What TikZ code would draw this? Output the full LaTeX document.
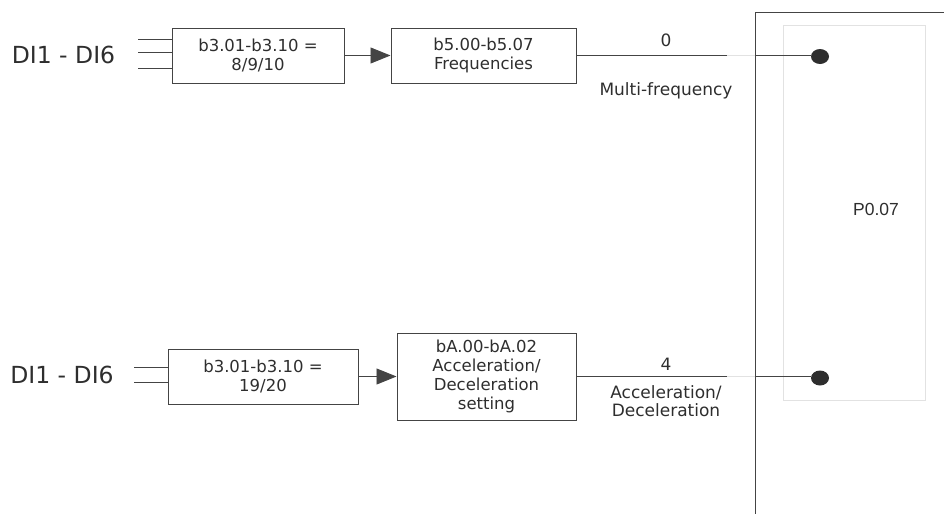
\documentclass[tikz,border=0pt]{standalone}
\usepackage{fontspec}
\setmainfont{DejaVu Sans}
\newfontfamily\labelfont{Liberation Sans}
\usetikzlibrary{arrows.meta,calc,shapes.geometric}
\definecolor{ink}{HTML}{2E2E2E}
\definecolor{edge}{HTML}{444444}
\definecolor{faint}{HTML}{E2E2E2}
\tikzset{
  blk/.style={draw=edge, line width=1pt, align=center, inner sep=0pt,
              font=\fontsize{16.5}{19}\selectfont, text=ink},
  lbl/.style={align=center, inner sep=0pt, font=\fontsize{17}{18.5}\selectfont, text=ink},
  dilbl/.style={inner sep=0pt, font=\fontsize{23.5}{26}\selectfont, text=ink},
  wire/.style={draw=edge, line width=0.9pt},
  fwire/.style={draw=faint, line width=0.9pt},
  flow/.style={wire, -{Triangle[length=20pt,width=16pt]}},
  pin/.style={ellipse, fill=ink, draw=none, inner sep=0pt,
              minimum width=18pt, minimum height=15pt}
}
\begin{document}
\begin{tikzpicture}[x=1pt,y=-1pt]
\useasboundingbox (0,0) rectangle (944,514);

% selector frame and its inner panel
\draw[faint, line width=0.8pt] (783,25) rectangle (925,400);
\draw[edge, line width=1pt] (944,12) -- (755,12) -- (755,514);
\node[inner sep=0pt, font=\labelfont\fontsize{17.5}{20}\selectfont, text=ink] (p007) at (876,209) {P0.07};

% multi-frequency path
\node[dilbl] (di1) at (63.5,55) {DI1 - DI6};
\node[blk, minimum width=172pt, minimum height=55pt] (b1) at (258,55.5) {b3.01-b3.10 =\\8/9/10};
\node[blk, minimum width=185pt, minimum height=55pt] (b2) at (483.5,55.5) {b5.00-b5.07\\Frequencies};
\coordinate (ia) at (138,39);
\coordinate (ib) at (138,52);
\coordinate (ic) at (138,68);
\draw[wire] (ia) -- (ia -| b1.west);
\draw[wire] (ib) -- (ib -| b1.west);
\draw[wire] (ic) -- (ic -| b1.west);
\draw[flow] (b1.east) -- (b2.west);
\coordinate (fa) at (727,55.5);
\coordinate (fb) at (755,55.5);
\node[pin] (d1) at (820,56.5) {};
\draw[wire] (b2.east) -- (fa);
\draw[fwire] (fa) -- (fb);
\draw[wire] (fb) -- (d1.west |- fb);
\node[lbl] (l0) at (666,40) {0};
\node[lbl] (lmf) at (666,91) {Multi-frequency};

% acceleration / deceleration path
\node[dilbl] (di2) at (62,375) {DI1 - DI6};
\node[blk, minimum width=190pt, minimum height=55pt] (b3) at (263,376.5) {b3.01-b3.10 =\\19/20};
\node[blk, minimum width=179pt, minimum height=87pt] (b4) at (486.5,376.5) {bA.00-bA.02\\Acceleration/\\Deceleration\\setting};
\coordinate (ja) at (134,367);
\coordinate (jb) at (134,382);
\draw[wire] (ja) -- (ja -| b3.west);
\draw[wire] (jb) -- (jb -| b3.west);
\draw[flow] (b3.east) -- (b4.west);
\coordinate (ga) at (727,376.5);
\coordinate (gb) at (755,376.5);
\node[pin] (d2) at (820,378) {};
\draw[wire] (b4.east) -- (ga);
\draw[fwire] (ga) -- (gb);
\draw[wire] (gb) -- (d2.west |- gb);
\node[lbl] (l4) at (666,364) {4};
\node[lbl] (lad) at (666,401) {Acceleration/\\Deceleration};
\end{tikzpicture}
\end{document}
